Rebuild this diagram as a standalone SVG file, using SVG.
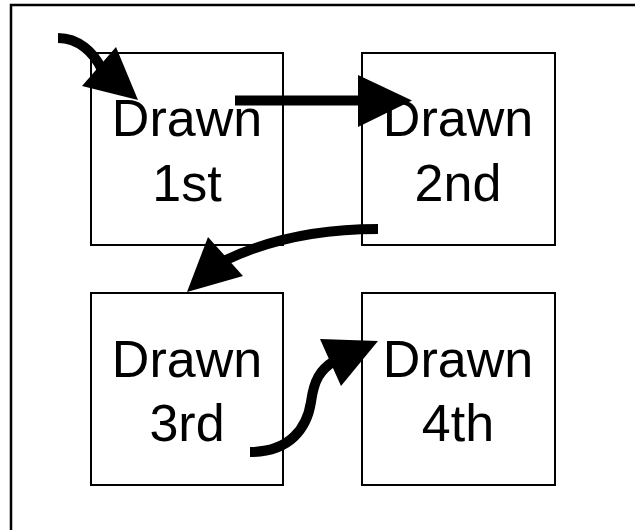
<svg xmlns="http://www.w3.org/2000/svg" width="635" height="530" viewBox="0 0 635 530">
<style>
.frame{fill:none;stroke:#000;stroke-width:2.5}
.box{fill:#fff;stroke:#000;stroke-width:2}
.lbl{font-family:"Liberation Sans",Arial,sans-serif;font-size:52px;fill:#000;text-anchor:middle}
.edge{fill:none;stroke:#000;stroke-width:10}
.head{fill:#000;stroke:none}
</style>
<rect width="635" height="530" fill="#fff"/>
<path class="frame" d="M11,540 L11,5 L645,5"/>
<g id="node1"><rect class="box" x="91" y="53" width="192" height="192"/><text class="lbl" x="187" y="136">Drawn</text><text class="lbl" x="187" y="201">1st</text></g>
<g id="node2"><rect class="box" x="362" y="53" width="193" height="192"/><text class="lbl" x="458" y="136">Drawn</text><text class="lbl" x="458" y="201">2nd</text></g>
<g id="node3"><rect class="box" x="91" y="293" width="192" height="192"/><text class="lbl" x="187" y="377">Drawn</text><text class="lbl" x="187" y="441">3rd</text></g>
<g id="node4"><rect class="box" x="362" y="293" width="193" height="192"/><text class="lbl" x="458" y="377">Drawn</text><text class="lbl" x="458" y="441">4th</text></g>
<g id="connectors">
<path class="edge" d="M58,38 C78,38 94,52 102,70"/>
<polygon class="head" points="82,86 116,47 138,100"/>
<path class="edge" d="M235,100.5 L362,100.5"/>
<polygon class="head" points="358,75 412,100.5 358,127"/>
<path class="edge" d="M378,229 C320,229 268,240 226,260"/>
<polygon class="head" points="208,237 243,276 187,292"/>
<path class="edge" d="M250,452 C290,452 307,428 311,402 C314,380 320,370 334,361"/>
<polygon class="head" points="320,339 378,341 341,386"/>
</g>
</svg>
